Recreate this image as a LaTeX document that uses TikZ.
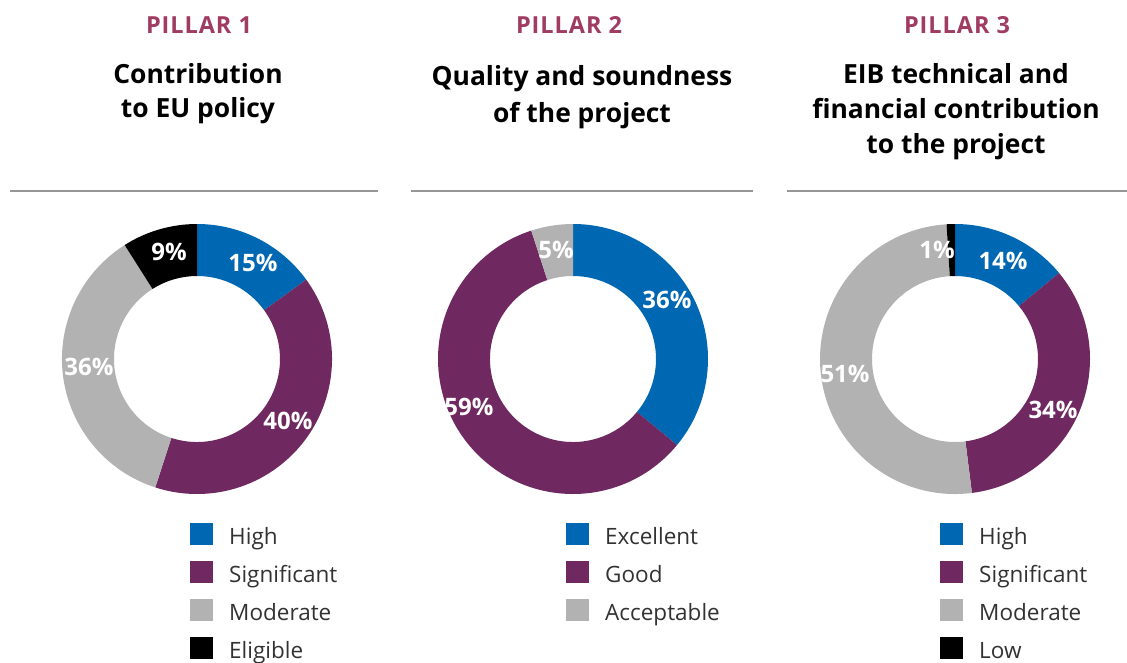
\documentclass[tikz,border=0pt]{standalone}
\usepackage{fontspec}
\setmainfont{Open Sans}
\newfontfamily\pillarfont[LetterSpace=4]{Open Sans}
\definecolor{eibblue}{RGB}{0,104,178}
\definecolor{eibpurple}{RGB}{112,41,96}
\definecolor{eibgrey}{RGB}{178,178,178}
\definecolor{pillarcol}{RGB}{160,60,97}
\definecolor{rulecol}{RGB}{150,150,150}
\definecolor{legtext}{RGB}{50,50,50}
\newcommand{\seg}[3]{\fill[#1] (#2:135) arc[start angle=#2, end angle=#3, radius=135] -- (#3:83) arc[start angle=#3, end angle=#2, radius=83] -- cycle;}
\begin{document}
\begin{tikzpicture}[x=1pt,y=-1pt,
  pillar/.style={anchor=base, text=pillarcol, font=\pillarfont\bfseries\fontsize{23.5}{23.5}\selectfont, inner sep=0pt},
  title/.style={anchor=base, font=\bfseries\fontsize{26.4}{26.4}\selectfont, inner sep=0pt},
  pct/.style={text=white, font=\bfseries\fontsize{24}{24}\selectfont, inner sep=0pt},
  legbox/.style={fill=#1, minimum width=23pt, minimum height=22pt, inner sep=0pt, anchor=west},
  legtxt/.style={anchor=base west, text=legtext, font=\fontsize{22.5}{22.5}\selectfont, inner sep=0pt},
  rule/.style={draw=rulecol, line width=1.3pt}]
\useasboundingbox (0,0) rectangle (1127,662);
% titles
\node[pillar] (p1) at (199,33) {PILLAR 1};
\node[title] (t1a) at (198,83) {Contribution};
\node[title] (t1b) at (198,117) {to EU policy};
\node[pillar] (p2) at (569,33) {PILLAR 2};
\node[title] (t2a) at (582,85) {Quality and soundness};
\node[title] (t2b) at (582,122) {of the project};
\node[pillar] (p3) at (957,33) {PILLAR 3};
\node[title] (t3a) at (956,83) {EIB technical and};
\node[title] (t3b) at (956,118) {financial contribution};
\node[title] (t3c) at (956,153) {to the project};
% rules
\coordinate (r1a) at (10,191); \coordinate (r1b) at (378,191);
\coordinate (r2a) at (411,191); \coordinate (r2b) at (753,191);
\coordinate (r3a) at (787,191); \coordinate (r3b) at (1127,191);
\draw[rule] (r1a) -- (r1b);
\draw[rule] (r2a) -- (r2b);
\draw[rule] (r3a) -- (r3b);
% donut 1
\begin{scope}[shift={(197,359)}, yscale=-1]
\seg{eibblue}{90}{36}
\seg{eibpurple}{36}{-108}
\seg{eibgrey}{-108}{-237.6}
\seg{black}{-237.6}{-270}
\end{scope}
% donut 2
\begin{scope}[shift={(573,359)}, yscale=-1]
\seg{eibblue}{90}{-39.6}
\seg{eibpurple}{-39.6}{-252}
\seg{eibgrey}{-252}{-270}
\end{scope}
% donut 3
\begin{scope}[shift={(955,359)}, yscale=-1]
\seg{eibblue}{90}{39.6}
\seg{eibpurple}{39.6}{-82.8}
\seg{eibgrey}{-82.8}{-266.4}
\seg{black}{-266.4}{-270}
\end{scope}
% percentage labels
\node[pct] (d1a) at (253,263) {15\%};
\node[pct] (d1b) at (288,421) {40\%};
\node[pct] (d1c) at (89,367) {36\%};
\node[pct] (d1d) at (169,252) {9\%};
\node[pct] (d2a) at (667,300) {36\%};
\node[pct] (d2b) at (469,407) {59\%};
\node[pct] (d2c) at (556,250) {5\%};
\node[pct] (d3a) at (1003,261) {14\%};
\node[pct] (d3b) at (1053,410) {34\%};
\node[pct] (d3c) at (845,374) {51\%};
\node[pct] (d3d) at (937,250) {1\%};
% legend 1
\node[legbox=eibblue] (l1a) at (190,534) {};
\node[legbox=eibpurple] (l1b) at (190,572) {};
\node[legbox=eibgrey] (l1c) at (190,610) {};
\node[legbox=black] (l1d) at (190,648) {};
\node[legtxt] (m1a) at (229,544) {High};
\node[legtxt] (m1b) at (229,582) {Significant};
\node[legtxt] (m1c) at (229,620) {Moderate};
\node[legtxt] (m1d) at (229,658) {Eligible};
% legend 2
\node[legbox=eibblue] (l2a) at (566,534) {};
\node[legbox=eibpurple] (l2b) at (566,572) {};
\node[legbox=eibgrey] (l2c) at (566,610) {};
\node[legtxt] (m2a) at (605,544) {Excellent};
\node[legtxt] (m2b) at (605,582) {Good};
\node[legtxt] (m2c) at (605,620) {Acceptable};
% legend 3
\node[legbox=eibblue] (l3a) at (940,534) {};
\node[legbox=eibpurple] (l3b) at (940,572) {};
\node[legbox=eibgrey] (l3c) at (940,610) {};
\node[legbox=black] (l3d) at (940,648) {};
\node[legtxt] (m3a) at (979,544) {High};
\node[legtxt] (m3b) at (979,582) {Significant};
\node[legtxt] (m3c) at (979,620) {Moderate};
\node[legtxt] (m3d) at (979,658) {Low};
\end{tikzpicture}
\end{document}
